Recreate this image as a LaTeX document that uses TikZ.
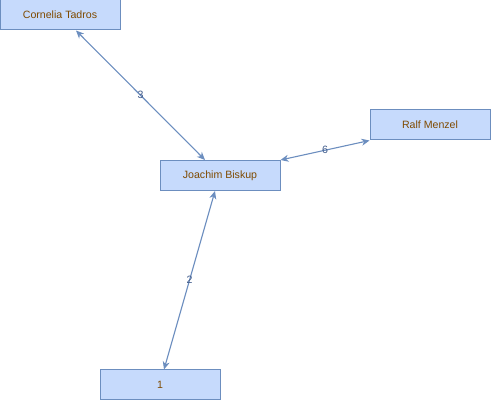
\documentclass[tikz,border=0pt]{standalone}
\usepackage{fontspec}
\setmainfont{Liberation Sans}
\usetikzlibrary{arrows.meta}
\definecolor{boxfill}{HTML}{C6DAFC}
\definecolor{boxline}{HTML}{6C8EBF}
\definecolor{txt}{HTML}{7F4A00}
\definecolor{lbl}{HTML}{3F5A8A}
\tikzset{
  person/.style={draw=boxline, fill=boxfill, line width=1pt, minimum width=120pt, minimum height=30pt, inner sep=0pt, text=txt, font=\fontsize{10.6pt}{13pt}\selectfont},
  link/.style={draw=boxline, line width=1.1pt, {Stealth[length=8pt,width=7pt,inset=2.5pt]}-{Stealth[length=8pt,width=7pt,inset=2.5pt]}},
  elbl/.style={text=lbl, font=\fontsize{10.6pt}{13pt}\selectfont, inner sep=1pt}
}
\begin{document}
\begin{tikzpicture}[x=1pt,y=-1pt]
\useasboundingbox (0,0) rectangle (491,401);
\node[person] (c) at (60,15) {Cornelia Tadros};
\node[person] (j) at (220,175.5) {Joachim Biskup};
\node[person] (r) at (430,125) {Ralf Menzel};
\node[person] (o) at (160,385) {1};
\draw[link] ([xshift=16pt]c.south) -- node[elbl] {3} ([xshift=-15pt]j.north);
\draw[link] (r.south west) -- node[elbl] {6} (j.north east);
\draw[link] ([xshift=-5pt]j.south) -- node[elbl] {2} ([xshift=4pt]o.north);
\end{tikzpicture}
\end{document}
